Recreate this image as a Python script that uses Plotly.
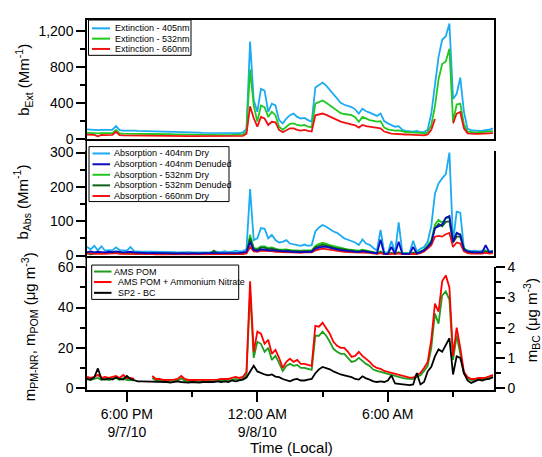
import pandas as pd
import plotly.graph_objects as go

# ---------------- data ----------------
start_time = "2010-09-07 16:10"
n_points = 113
step = "10min"
times = pd.date_range(start_time, periods=n_points, freq=step)

ext_405 = [105, 100, 102, 95, 98, 96, 95, 100, 140, 95,
           90, 92, 88, 90, 87, 86, 88, 85, 84, 83,
           82, 80, 78, 78, 76, 75, 74, 80, 72, 70,
           70, 68, 66, 66, 65, 64, 63, 62, 62, 60,
           62, 62, 63, 70, 110, 1080, 430, 300, 555, 535,
           300, 390, 370, 207, 171, 225, 262, 280, 243, 225,
           232, 207, 189, 570, 600, 625, 590, 540, 490, 440,
           400, 378, 363, 352, 327, 280, 334, 305, 291, 269,
           254, 280, 196, 171, 153, 134, 140, 98, 87, 80,
           80, 87, 73, 75, 100, 280, 620, 910, 1100, 1140,
           1280, 443, 500, 680, 300, 110, 95, 90, 88, 90,
           95, 100, 115]
ext_532 = [65, 62, 64, 60, 62, 60, 60, 63, 98, 60,
           58, 58, 56, 57, 55, 55, 56, 54, 53, 53,
           52, 51, 50, 50, 49, 48, 48, 52, 47, 46,
           46, 45, 44, 44, 44, 43, 42, 42, 42, 41,
           42, 42, 43, 48, 80, 770, 370, 190, 370, 350,
           243, 298, 262, 134, 100, 134, 165, 170, 153, 146,
           153, 134, 128, 390, 410, 425, 400, 370, 340, 310,
           285, 275, 268, 262, 240, 189, 243, 225, 207, 200,
           190, 196, 125, 105, 95, 90, 92, 80, 75, 72,
           70, 75, 65, 58, 72, 150, 360, 660, 830, 860,
           1000, 190, 380, 390, 160, 80, 72, 70, 70, 72,
           75, 80, 85]
ext_660 = [45, 42, 44, 28, 42, 40, 40, 42, 78, 40,
           38, 38, 37, 37, 36, 36, 36, 35, 34, 34,
           33, 33, 32, 32, 31, 31, 30, 34, 30, 29,
           29, 29, 28, 28, 28, 27, 27, 27, 27, 26,
           27, 27, 28, 31, 55, 360, 230, 135, 243, 225,
           153, 189, 182, 98, 73, 98, 116, 116, 98, 91,
           98, 87, 80, 260, 272, 280, 265, 245, 225, 205,
           190, 180, 170, 160, 150, 124, 153, 140, 135, 125,
           118, 116, 80, 65, 58, 55, 55, 50, 47, 45,
           44, 46, 42, 38, 48, 100, 220, None, None, None,
           None, 171, 280, 298, 116, 60, 55, 55, 55, 56,
           58, 60, 62]

abs_404_dry = [25, 18, 28, 15, 27, 14, 16, 15, 24, 16,
               15, 14, 25, 13, 12, 12, 11, 12, 11, 11,
               10, 11, 10, 10, 10, 9, 10, 9, 10, 9,
               9, 10, 9, 9, 10, 12, 11, 10, 13, 10,
               11, 14, 12, 13, 18, 194, 45, 50, 80, 78,
               50, 60, 45, 38, 40, 45, 35, 33, 30, 28,
               32, 28, 30, 70, 82, 89, 84, 76, 70, 66,
               57, 50, 46, 43, 38, 31, 47, 35, 31, 22,
               15, 75, 10, 8, 42, 8, 97, 8, 7, 8,
               43, 12, 20, 25, 40, 86, 180, 210, 225, 237,
               300, 40, 128, 125, 20, 15, 13, 14, 12, 13,
               15, 12, 14]
abs_404_den = [10, 12, 9, 11, 10, 9, 11, 10, 12, 10,
               9, 10, 11, 9, 8, 8, 8, 7, 8, 7,
               7, 7, 7, 6, 7, 6, 7, 6, 6, 7,
               6, 6, 7, 7, 6, 7, 7, 7, 8, 7,
               7, 8, 8, 9, 11, 39, 16, 14, 18, 17,
               15, 16, 14, 12, 12, 13, 11, 10, 10, 10,
               11, 10, 11, 20, 24, 26, 25, 22, 20, 18,
               16, 15, 13, 12, 12, 10, 13, 11, 10, 8,
               6, 46, 5, 5, 25, 5, 40, 5, 4, 5,
               25, 6, 10, 15, 25, 37, 80, 85, 90, 110,
               115, 40, 66, 60, 18, 12, 10, 9, 10, 9,
               30, 10, 12]
abs_532_dry = [9, 10, 8, 9, 8, 8, 9, 8, 10, 8,
               8, 8, 9, 7, 6, 6, 6, 6, 6, 5,
               5, 5, 5, 5, 5, 5, 5, 5, 5, 5,
               5, 5, 5, 5, 6, 9, 6, 5, 6, 5,
               6, 6, 6, 7, 9, 61, 22, 20, 27, 27,
               22, 24, 20, 17, 17, 18, 16, 15, 14, 14,
               15, 14, 15, 28, 34, 37, 35, 30, 27, 24,
               22, 20, 18, 17, 16, 14, 17, 15, 13, 10,
               8, 12, 6, 6, 8, 6, 10, 6, 5, 6,
               9, 7, 12, 18, 30, 45, 90, 104, 95, 108,
               110, 45, 65, 62, 22, 12, 10, 10, 9, 10,
               14, 10, 11]
abs_532_den = [8, 3, 7, 8, 7, 7, 8, 7, 9, 7,
               7, 7, 8, 6, 5, 5, 5, 5, 5, 4,
               4, 4, 4, 4, 4, 4, 4, 4, 4, 4,
               4, 4, 4, 4, 5, 14, 5, 4, 5, 4,
               5, 5, 5, 6, 8, 50, 19, 17, 23, 23,
               19, 20, 17, 15, 14, 15, 14, 13, 12, 12,
               13, 12, 13, 24, 29, 32, 30, 26, 23, 21,
               19, 17, 15, 14, 13, 12, 14, 13, 11, 8,
               7, 10, 5, 5, 7, 5, 8, 5, 4, 5,
               8, 6, 10, 15, 26, 38, 80, 92, 85, 98,
               100, 38, 55, 55, 18, 10, 8, 8, 7, 8,
               12, 8, 9]
abs_660_dry = [6, 7, 5, 6, 5, 5, 6, 5, 7, 5,
               5, 5, 6, 4, 4, 4, 4, 4, 4, 3,
               3, 3, 3, 3, 3, 3, 3, 3, 3, 3,
               3, 3, 3, 3, 3, 4, 3, 3, 3, 3,
               3, 3, 3, 4, 6, 25, 12, 11, 14, 14,
               12, 13, 11, 10, 10, 10, 9, 9, 8, 8,
               9, 8, 9, 15, 18, 20, 19, 17, 15, 14,
               12, 11, 10, 10, 9, 8, 10, 9, 8, 6,
               5, 7, 4, 4, 5, 4, 6, 4, 3, 4,
               5, 4, 7, 12, 20, 30, 55, 57, 55, 62,
               66, 25, 38, 35, 12, 7, 6, 6, 5, 6,
               8, 6, 7]

ams_pom = [4.5, 4.0, 4.5, 5.0, 4.0, 4.5, 4.0, 4.5, 5.0, 4.0,
           5.0, 4.0, 4.0, 3.8, None, None, None, None, 5.0, 3.8,
           3.8, 3.3, 3.3, 3.3, 3.5, 3.7, 4.8, 3.7, 3.3, 3.3,
           3.3, 3.3, 3.5, 3.3, 3.3, 3.3, 3.5, 3.7, 3.7, 3.7,
           4.0, 4.5, 4.0, 4.5, 6.5, 48.0, 15.0, 23.0, 22.0, 18.0,
           20.0, 14.0, 16.0, 12.5, 8.5, 11.0, 12.0, 11.0, 11.5, 10.0,
           10.0, 9.5, 9.0, 26.0, 26.0, 28.0, 26.0, 23.0, 19.5, 18.0,
           17.0, 17.0, 15.0, 13.0, 13.5, 15.0, 13.5, 12.0, 11.0, 9.2,
           8.5, 8.0, 7.2, 6.8, 6.4, 6.0, 5.5, 5.0, 4.7, 4.4,
           4.4, 5.5, 6.4, 8.5, 11.0, 20.0, 37.0, 32.0, 46.0, 48.0,
           44.0, 14.0, 26.0, 17.0, 7.0, 4.8, 3.9, 3.9, 4.3, 4.3,
           4.5, 5.0, 5.6]
ams_pom_an = [5.5, 5.0, 5.5, 6.5, 5.0, 5.5, 5.0, 5.5, 6.0, 5.0,
              6.5, 5.0, 5.0, 4.5, None, None, None, None, 6.0, 4.5,
              4.5, 4.0, 4.0, 4.0, 4.2, 4.5, 6.0, 4.5, 4.0, 4.0,
              4.0, 4.0, 4.2, 4.0, 4.0, 4.0, 4.2, 4.5, 4.5, 4.5,
              5.0, 5.5, 5.0, 5.5, 8.0, 53.0, 18.0, 28.0, 27.0, 22.0,
              24.0, 17.0, 19.0, 15.0, 10.0, 13.0, 14.6, 13.0, 14.0, 12.0,
              12.0, 11.5, 11.0, 30.9, 30.5, 32.5, 30.0, 27.0, 23.0, 21.0,
              20.0, 20.0, 18.0, 15.5, 16.0, 18.0, 16.0, 14.5, 13.0, 11.0,
              10.0, 9.5, 8.5, 8.0, 7.5, 7.0, 6.5, 6.0, 5.5, 5.2,
              5.2, 6.5, 7.5, 10.0, 13.0, 24.0, 42.0, 38.0, 53.0, 56.0,
              50.0, 16.0, 30.0, 20.0, 8.0, 5.5, 4.5, 4.5, 5.0, 5.0,
              5.2, 5.8, 6.5]
sp2_bc = [0.30, 0.28, 0.35, 0.65, 0.30, 0.28, 0.32, 0.28, 0.35, 0.30,
          0.28, 0.40, 0.30, 0.25, 0.22, 0.22, 0.22, 0.20, 0.20, 0.20,
          0.22, 0.20, 0.20, 0.18, 0.20, 0.22, 0.20, 0.18, 0.18, 0.20,
          0.18, 0.18, 0.20, 0.20, 0.18, 0.20, 0.22, 0.20, 0.22, 0.20,
          0.25, 0.22, 0.25, 0.28, 0.35, 0.55, 0.74, 0.55, 0.49, 0.45,
          0.42, 0.45, 0.38, 0.36, 0.30, 0.25, 0.22, 0.28, 0.30, 0.25,
          0.25, 0.28, 0.30, 0.49, 0.62, 0.70, 0.66, 0.62, 0.55, 0.49,
          0.45, 0.42, 0.40, 0.36, 0.30, 0.28, 0.39, 0.32, 0.28, 0.22,
          0.20, 0.22, 0.20, 0.25, 0.42, 0.15, 0.14, 0.12, 0.12, 0.10,
          0.12, 0.50, 0.12, 0.20, 0.55, 0.70, 1.05, 1.28, 1.20, 1.42,
          1.65, 0.45, 1.05, 1.00, 0.50, 0.25, 0.17, 0.22, 0.28, 0.25,
          0.29, 0.30, 0.36]

x_range = ["2010-09-07 16:10", "2010-09-08 10:53"]
x_tick_vals = ["2010-09-07 18:00", "2010-09-08 00:00", "2010-09-08 06:00"]
x_tick_text = ["6:00 PM<br>9/7/10", "12:00 AM<br>9/8/10", "6:00 AM"]

ext_names = ["Extinction - 405nm", "Extinction - 532nm", "Extinction - 660nm"]
abs_names = ["Absorption - 404nm Dry", "Absorption - 404nm Denuded",
             "Absorption - 532nm Dry", "Absorption - 532nm Denuded",
             "Absorption - 660nm Dry"]
mass_names = ["AMS POM", "AMS POM + Ammonium Nitrate", "SP2 - BC"]

# ---------------- style ----------------
LBLUE = "#1AABF2"
GREEN = "#20C820"
RED = "#F01212"
DBLUE = "#0A0ABE"
DGREEN = "#0B6419"
MGREEN = "#1E9E1E"
BLACK = "#000000"

W, H = 542, 457
PL, PR, PT, PB = 87, 494, 13, 390


def fx(p):
    return (p - PL) / (PR - PL)


def fy(p):
    return (PB - p) / (PB - PT)


FONT = "Liberation Sans, Arial, sans-serif"
LW = 1.8

fig = go.Figure()


def add(y, name, color, xa, ya):
    fig.add_trace(go.Scatter(x=times, y=y, name=name, mode="lines",
                             line=dict(color=color, width=LW),
                             xaxis=xa, yaxis=ya, showlegend=False,
                             connectgaps=False))


add(ext_405, ext_names[0], LBLUE, "x", "y")
add(ext_532, ext_names[1], GREEN, "x", "y")
add(ext_660, ext_names[2], RED, "x", "y")

add(abs_404_dry, abs_names[0], LBLUE, "x2", "y2")
add(abs_532_dry, abs_names[2], GREEN, "x2", "y2")
add(abs_532_den, abs_names[3], DGREEN, "x2", "y2")
add(abs_660_dry, abs_names[4], RED, "x2", "y2")
add(abs_404_den, abs_names[1], DBLUE, "x2", "y2")

add(ams_pom, mass_names[0], MGREEN, "x3", "y3")
add(ams_pom_an, mass_names[1], "#FF0000", "x3", "y3")
add(sp2_bc, mass_names[2], BLACK, "x3", "y4")

axl = dict(showgrid=False, zeroline=False, showline=True, linecolor="black",
           linewidth=1.5)
tickf = dict(family=FONT, size=14, color="black")
ytick = dict(ticks="outside", ticklen=9, tickwidth=1.5, tickcolor="black",
             tickfont=tickf)

fig.update_layout(
    width=W, height=H,
    margin=dict(l=PL, r=W - PR, t=PT, b=H - PB),
    paper_bgcolor="white", plot_bgcolor="white",
    font=dict(family=FONT, size=14, color="black"),
    showlegend=False,
    xaxis=dict(**axl, range=x_range, anchor="y", mirror=True,
               showticklabels=False, ticks="", type="date"),
    yaxis=dict(**axl, **ytick, domain=[fy(134), 1], range=[0, 1320],
               dtick=400, tickformat=",d", mirror=True,
               minor=dict(dtick=200, ticks="outside", ticklen=5,
                          tickwidth=1.5, tickcolor="black")),
    xaxis2=dict(**axl, range=x_range, anchor="y2", showticklabels=False,
                ticks="", type="date"),
    yaxis2=dict(**axl, **ytick, domain=[fy(253), fy(146)], range=[0, 306],
                dtick=100, mirror=True,
                minor=dict(dtick=50, ticks="outside", ticklen=5,
                           tickwidth=1.5, tickcolor="black")),
    xaxis3=dict(**axl, range=x_range, anchor="y3", type="date",
                tickmode="array", tickvals=x_tick_vals, ticktext=x_tick_text,
                ticks="outside", ticklen=10, tickwidth=1.5, tickcolor="black",
                tickfont=dict(family=FONT, size=14, color="black"),
                minor=dict(dtick=3 * 3600 * 1000, tick0="2010-09-07 18:00",
                           ticks="outside", ticklen=5, tickwidth=1.5,
                           tickcolor="black")),
    yaxis3=dict(**axl, **ytick, domain=[0, fy(265)], range=[-0.976, 60],
                dtick=20,
                minor=dict(dtick=10, ticks="outside", ticklen=5,
                           tickwidth=1.5, tickcolor="black")),
    yaxis4=dict(**axl, **ytick, overlaying="y3", anchor="x3", side="right",
                range=[-0.065, 4], dtick=1,
                minor=dict(dtick=0.5, ticks="outside", ticklen=5,
                           tickwidth=1.5, tickcolor="black")),
)

shapes = []
annotations = []

# continuous left axis line through the panel gaps
shapes.append(dict(type="line", xref="paper", yref="paper",
                   x0=fx(PL - 0.75), x1=fx(PL - 0.75), y0=fy(PB), y1=fy(PT),
                   line=dict(color="black", width=1.5), layer="above"))


def legend(box, rows, line_x, text_xs, names, colors):
    x0, y0, x1, y1 = box
    shapes.append(dict(type="rect", xref="paper", yref="paper",
                       x0=fx(x0), x1=fx(x1), y0=fy(y1), y1=fy(y0),
                       fillcolor="white", line=dict(color="black", width=1),
                       layer="above"))
    for ry, tx, nm, c in zip(rows, text_xs, names, colors):
        shapes.append(dict(type="line", xref="paper", yref="paper",
                           x0=fx(line_x[0]), x1=fx(line_x[1]),
                           y0=fy(ry), y1=fy(ry),
                           line=dict(color=c, width=2), layer="above"))
        annotations.append(dict(text=nm, xref="paper", yref="paper",
                                x=fx(tx), y=fy(ry), xanchor="left",
                                yanchor="middle", showarrow=False,
                                font=dict(family=FONT, size=9, color="black")))


legend((88.5, 13, 191, 49), [21.5, 32, 42.5], (92, 110), [113] * 3,
       ext_names, [LBLUE, GREEN, RED])
legend((89, 142, 229, 198), [149, 160, 170.7, 181.5, 192.3], (92.5, 110),
       [112] * 5, abs_names, [LBLUE, DBLUE, GREEN, DGREEN, RED])
legend((91.7, 262.7, 238.7, 297.7), [269.3, 280, 291], (94, 111.5),
       [112, 116, 116], mass_names, [MGREEN, "#FF0000", BLACK])

tfont = dict(family=FONT, size=15, color="black")


def vtitle(text, x, y):
    annotations.append(dict(text=text, xref="paper", yref="paper",
                            x=fx(x), y=fy(y), xanchor="center",
                            yanchor="middle", textangle=-90,
                            showarrow=False, font=tfont))


vtitle("b<sub>Ext</sub> (Mm<sup>-1</sup>)", 24, 74)
vtitle("b<sub>Abs</sub> (Mm<sup>-1</sup>)", 22, 199)
vtitle("m<sub>PM-NR</sub>, m<sub>POM</sub> (\u03bcg m<sup>-3</sup>)", 29, 325)
vtitle("m<sub>BC</sub> (\u03bcg m<sup>-3</sup>)", 531, 319)

annotations.append(dict(text="Time (Local)", xref="paper", yref="paper",
                        x=fx(291), y=fy(449), xanchor="center",
                        yanchor="middle", showarrow=False, font=tfont))

fig.update_layout(shapes=shapes, annotations=annotations)
fig.write_html("out.html")
